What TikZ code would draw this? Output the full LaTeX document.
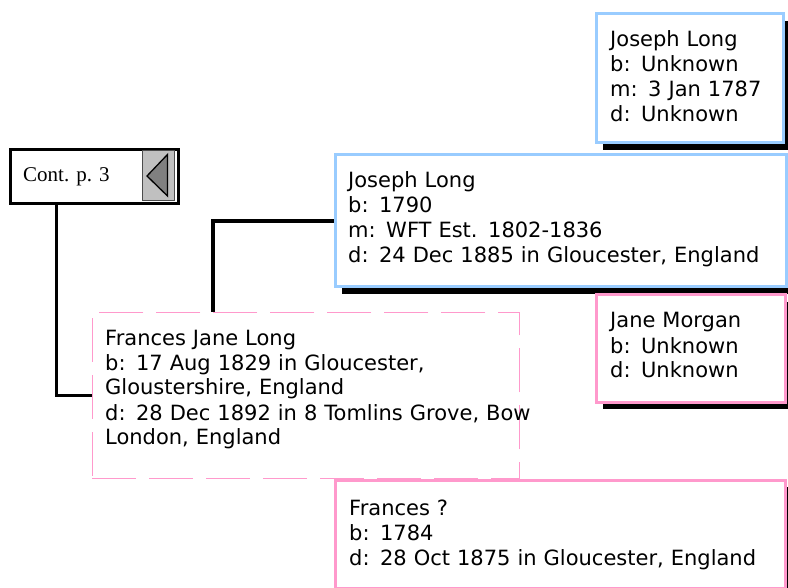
\documentclass[tikz,border=0pt]{standalone}
\usepackage{fontspec}
\setmainfont{DejaVu Sans}
\newfontfamily\contfont{Liberation Serif}
\usetikzlibrary{shadows}
\definecolor{boxblue}{RGB}{153,204,255}
\definecolor{boxpink}{RGB}{255,153,204}
\definecolor{contgray}{RGB}{192,192,192}
\definecolor{arrowgray}{RGB}{128,128,128}
\tikzset{
  personbox/.style={draw, line width=3pt, fill=white, anchor=north west, inner sep=0pt,
    drop shadow={shadow xshift=7pt, shadow yshift=-7pt, fill=black, opacity=1}},
  bluebox/.style={personbox, draw=boxblue},
  pinkbox/.style={personbox, draw=boxpink},
  dashbox/.style={draw=boxpink, line width=0.8pt, dash pattern=on 44pt off 13pt, anchor=north west, inner sep=0pt},
  txt/.style={anchor=base west, inner sep=0pt, text width=460pt, align=left,
    font=\fontsize{21}{25}\selectfont},
  conn/.style={draw=black, line width=3.5pt},
}
\begin{document}
\begin{tikzpicture}[x=1pt,y=-1pt]
\useasboundingbox (0,0) rectangle (788,588);
% person boxes
\node[bluebox, minimum width=187pt, minimum height=129pt] (jl1) at (594.5,12.5) {};
\node[bluebox, minimum width=451pt, minimum height=132pt] (jl2) at (333.5,153.5) {};
\node[pinkbox, minimum width=189pt, minimum height=107pt] (jm) at (594.5,293.5) {};
\node[pinkbox, minimum width=450pt, minimum height=108pt] (fq) at (333.5,478.5) {};
\node[dashbox, minimum width=427pt, minimum height=166pt] (fjl) at (92,312) {};
% texts
\node[txt] (jl1t) at (610,47) {Joseph Long\\b: Unknown\\m: 3 Jan 1787\\d: Unknown};
\node[txt] (jl2t) at (348,188) {Joseph Long\\b: 1790\\m: WFT Est. 1802-1836\\d: 24 Dec 1885 in Gloucester, England};
\node[txt] (jmt) at (610,328) {Jane Morgan\\b: Unknown\\d: Unknown};
\node[txt] (fqt) at (349,515) {Frances ?\\b: 1784\\d: 28 Oct 1875 in Gloucester, England};
\node[txt] (fjlt) at (105,345) {Frances Jane Long\\b: 17 Aug 1829 in Gloucester,\\Gloustershire, England\\d: 28 Dec 1892 in 8 Tomlins Grove, Bow\\London, England};
% continuation box
\node[draw=black, line width=3pt, fill=white, anchor=north west, inner sep=0pt,
  minimum width=168pt, minimum height=54pt] (cont) at (8.5,148.5) {};
\fill[contgray, draw=black!70, line width=0.8pt] (142.5,150.5) rectangle (174,200);
\filldraw[fill=arrowgray, draw=black, line width=1.3pt] (147,176) -- (167.5,154.5) -- (167.5,196) -- cycle;
\node[anchor=base west, inner sep=0pt, font=\contfont\fontsize{21}{25}\selectfont] (contt) at (23,182) {Cont. p. 3};
% connectors
\draw[conn] ([xshift=48pt]cont.south west) |- (fjl.west);
\draw[conn] ([xshift=121pt]fjl.north west) |- (jl2.west);
\end{tikzpicture}
\end{document}
